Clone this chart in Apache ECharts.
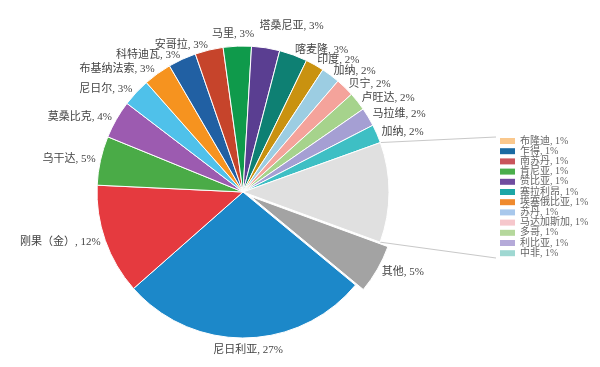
<!DOCTYPE html>
<html>
<head>
<meta charset="utf-8">
<script src="https://cdn.jsdelivr.net/npm/echarts@6/dist/echarts.min.js"></script>
<style>html,body{margin:0;padding:0;background:#fff;}#c{width:600px;height:367px;}</style>
</head>
<body>
<div id="c"></div>
<script>
// ---- data (shares in %) ----
const mainNames = ['尼日利亚','刚果（金）','乌干达','莫桑比克','尼日尔','布基纳法索','科特迪瓦','安哥拉','马里','塔桑尼亚','喀麦隆','印度','加纳','贝宁','卢旺达','马拉维','加纳'];
const mainValues = [27.4, 12.2, 5.4, 4.2, 3.1, 3.1, 3.1, 3.1, 3.1, 3.1, 3.1, 2.05, 2.05, 2.05, 2.05, 2.05, 2.05];
const mainColors = ['#1c88c9','#e53a3f','#4aab47','#9c5bb0','#4fc1ea','#f6931f','#2160a3','#c6442b','#0f9a4b','#5a3e91','#0e8073','#c99210','#9ccde2','#f4a39b','#a6d38c','#a59fd3','#3ebfc4'];

const smallNames = ['布隆迪','乍得','南苏丹','肯尼亚','赞比亚','塞拉利昂','埃塞俄比亚','苏丹','马达加斯加','多哥','利比亚','中非'];
const smallValues = [0.92, 0.92, 0.92, 0.92, 0.92, 0.92, 0.92, 0.92, 0.92, 0.92, 0.92, 0.92];
const smallColors = ['#fac88d','#1a6aa2','#c9545b','#4aae4c','#6f4c9f','#1ca6a6','#ef8a2e','#a8c8ec','#f6c7cc','#b5d89c','#b5aad9','#9fd8d2'];

const otherName = '其他';
const otherValue = 5.4;

// ---- layout ----
const CX = 243, CY = 192, R = 146, START = -39.6, EXPLODE = 9, LABEL_GAP = 5;
const FONT = '"Liberation Serif","Noto Sans CJK SC",serif';

const groupValue = smallValues.reduce((a, b) => a + b, 0);
const pct = v => Math.round(v) + '%';

const pieData = mainNames.map((n, i) => ({ name: n, value: mainValues[i], itemStyle: { color: mainColors[i] } }));
pieData.push({ name: '小国合计', value: groupValue, itemStyle: { color: '#e0e0e0' }, label: { show: false } });
pieData.push({ name: otherName, value: otherValue, selected: true, itemStyle: { color: '#a3a3a3' } });

const total = pieData.reduce((a, d) => a + d.value, 0);
const mids = [];
let cum = 0;
pieData.forEach(d => { mids.push(START - (cum + d.value / 2) / total * 360); cum += d.value; });

const before = mainValues.reduce((a, b) => a + b, 0);
const a1 = (START - before / total * 360) * Math.PI / 180;
const a2 = (START - (before + groupValue) / total * 360) * Math.PI / 180;
const p1 = [CX + R * Math.cos(a1), CY - R * Math.sin(a1)];
const p2 = [CX + R * Math.cos(a2), CY - R * Math.sin(a2)];
const LEG_X = 496, LEG_TOP = 137, LEG_BOT = 258;

const clamp = (v, lo, hi) => Math.max(lo, Math.min(hi, v));

// label placement: box just outside the rim at the slice's mid angle
const boxes = {};
function place(p) {
  const th = mids[p.dataIndex] * Math.PI / 180;
  const c = Math.cos(th), s = Math.sin(th);
  const rl = R + LABEL_GAP + (pieData[p.dataIndex].selected ? EXPLODE : 0);
  const px = CX + rl * c, py = CY - rl * s;
  const w = p.labelRect.width, h = p.labelRect.height;
  const kx = clamp(c * 5, -1, 1);
  let b;
  if (kx >= 1) b = { x: px, y: py, align: 'left', x0: px, x1: px + w };
  else if (kx <= -1) b = { x: px, y: py, align: 'right', x0: px - w, x1: px };
  else {
    const ky = s * (1 - Math.abs(kx));
    const x = px + kx * w / 2;
    b = { x: x, y: py - ky * h * 0.75, align: 'center', x0: x - w / 2, x1: x + w / 2 };
  }
  b.h = h; b.centered = Math.abs(kx) < 1;
  return b;
}
function firstPass(p) {
  if (p.seriesIndex !== 0 || mids[p.dataIndex] == null) return {};
  const b = place(p);
  boxes[p.dataIndex] = b;
  return { x: b.x, y: b.y, align: b.align, verticalAlign: 'middle' };
}
function resolve() {
  const keys = Object.keys(boxes);
  keys.forEach(i => {
    const b = boxes[i];
    if (!b.centered) return;
    keys.forEach(j => {
      const o = boxes[j];
      if (i === j || o.centered) return;
      const xOverlap = b.x0 < o.x1 && o.x0 < b.x1;
      const yOverlap = Math.abs(b.y - o.y) < b.h;
      if (xOverlap && yOverlap && b.y < o.y) b.y = o.y - b.h * 2.2;
    });
  });
}
function finalPass(p) {
  if (p.seriesIndex !== 0 || !boxes[p.dataIndex]) return {};
  const b = boxes[p.dataIndex];
  return { x: b.x, y: b.y, align: b.align, verticalAlign: 'middle' };
}

const chart = echarts.init(document.getElementById('c'), null, { renderer: 'canvas' });
const option = {
  backgroundColor: '#fff',
  animation: false,
  legend: {
    data: smallNames,
    orient: 'vertical',
    left: 500,
    top: 136,
    padding: 0,
    itemWidth: 15,
    itemHeight: 6,
    itemGap: 0.2,
    icon: 'rect',
    selectedMode: false,
    formatter: n => n + ', ' + pct(smallValues[smallNames.indexOf(n)]),
    textStyle: { fontSize: 10, lineHeight: 10, color: '#666', fontFamily: FONT }
  },
  graphic: [
    { type: 'line', shape: { x1: p1[0], y1: p1[1], x2: LEG_X, y2: LEG_TOP }, style: { stroke: '#c8c8c8', lineWidth: 1 }, silent: true },
    { type: 'line', shape: { x1: p2[0], y1: p2[1], x2: LEG_X, y2: LEG_BOT }, style: { stroke: '#c8c8c8', lineWidth: 1 }, silent: true }
  ],
  series: [
    {
      id: 'main',
      type: 'pie',
      center: [CX, CY],
      radius: [0, R],
      startAngle: START,
      clockwise: true,
      selectedMode: 'single',
      selectedOffset: EXPLODE,
      avoidLabelOverlap: false,
      silent: true,
      itemStyle: { borderColor: '#fff', borderWidth: 1 },
      label: {
        show: true,
        position: 'outside',
        fontSize: 11,
        color: '#444',
        fontFamily: FONT,
        distanceToLabelLine: 0,
        bleedMargin: 2,
        formatter: p => p.name + ', ' + pct(p.value)
      },
      labelLine: { show: false, length: LABEL_GAP, length2: 0 },
      labelLayout: firstPass,
      data: pieData
    },
    {
      id: 'small',
      type: 'pie',
      center: [-50, -50],
      radius: [0, 0],
      silent: true,
      label: { show: false },
      labelLine: { show: false },
      data: smallNames.map((n, i) => ({ name: n, value: smallValues[i], itemStyle: { color: smallColors[i] } }))
    }
  ]
};
chart.setOption(option);
resolve();
chart.setOption({ series: [{ id: 'main', labelLayout: finalPass }] });
</script>
</body>
</html>
